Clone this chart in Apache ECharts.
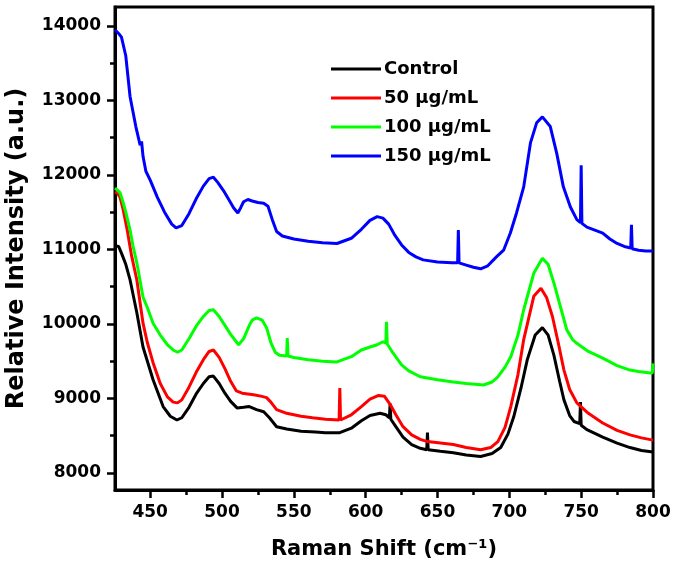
<!DOCTYPE html>
<html>
<head>
<meta charset="utf-8">
<script src="https://cdn.jsdelivr.net/npm/echarts@6/dist/echarts.min.js"></script>
<style>html,body{margin:0;padding:0;background:#fff}#c{width:675px;height:576px}</style>
</head>
<body>
<div id="c"></div>
<script>
var seriesNames = ['Control', '50 µg/mL', '100 µg/mL', '150 µg/mL'];
var xTicks = [450, 500, 550, 600, 650, 700, 750, 800];
var xMinorTicks = [475, 525, 575, 625, 675, 725, 775];
var yTicks = [8000, 9000, 10000, 11000, 12000, 13000, 14000];
var yMinorTicks = [8500, 9500, 10500, 11500, 12500, 13500];

var controlX = [425.5,428,430,433,436,440.7,445,452,459,464,468.6,472,477,482,487,491,494,498,502,506,510.6,515,519,524,529,533,538,545,555,565,572,582,590,597,603,610,614,616.5,617,617.5,621,626,632,638,642.5,643,643.5,652,661,670,680,688,694,699,703,708,712.5,718,723,727,731,735,738,742,745,749,749.5,750,754,765,775,784,792,800];
var controlY = [11050,11040,10950,10800,10590,10150,9690,9250,8890,8760,8710,8740,8880,9060,9200,9290,9300,9200,9070,8960,8870,8880,8890,8850,8820,8740,8620,8590,8560,8550,8540,8540,8600,8700,8770,8800,8780,8740,8930,8720,8620,8480,8380,8330,8310,8540,8310,8290,8270,8240,8220,8260,8340,8520,8750,9130,9520,9850,9950,9850,9580,9230,8980,8770,8690,8660,8950,8640,8580,8480,8400,8340,8300,8280];

var red50X = [425.5,427,429,431,434,437,440.7,445,448,452,457,462,466,469,472,477,482,487,491,494,498,502,506,510,514,518,522,527,531,534,538,545,555,563,572,581.5,582,582.5,590,597,603,609,613,617,621,626,632,638,643,652,661,670,680,687,692,697,701,706,710,717,722,726,730,734,738,742,747,755,765,775,784,792,800];
var red50Y = [11770,11760,11700,11550,11260,10920,10590,10010,9750,9480,9200,9020,8950,8940,8980,9150,9350,9520,9630,9650,9550,9400,9230,9100,9070,9060,9050,9030,9010,8950,8850,8800,8760,8740,8720,8710,9140,8710,8780,8890,8990,9040,9030,8920,8780,8620,8510,8450,8420,8400,8380,8340,8310,8340,8420,8610,8890,9320,9790,10370,10480,10350,10100,9750,9380,9120,8940,8800,8670,8570,8510,8470,8440];

var green100X = [425.5,427,429,431,433,436,438,440.7,445,448,452,457,462,466,469,472,477,482,487,491,494,498,502,506,511.5,515,519,521,524,528,531,534,537,540,545,545.4,546,550,560,570,580,590,597,603,608,612,614,614.5,615,619,625,630,638,650,661,670,682,688,692,697,701,706,710,717,723,727,731,736,740,744,747,755,765,775,784,790,798,799.5,800];
var green100Y = [11820,11800,11760,11640,11500,11260,11050,10820,10360,10220,10010,9850,9720,9650,9620,9650,9800,9970,10100,10180,10190,10100,9980,9860,9720,9800,9980,10050,10080,10050,9950,9750,9620,9580,9570,9810,9570,9550,9520,9500,9490,9560,9650,9690,9720,9760,9740,10030,9730,9610,9450,9370,9290,9250,9220,9200,9180,9220,9290,9420,9560,9850,10190,10680,10880,10800,10550,10200,9920,9790,9740,9630,9540,9440,9380,9360,9340,9340,9470];

var blue150X = [425.5,428,430,433,436,440,443,444,445,447,450,455,460,465,468,472,477,482,487,491,494,497,501,505,508,511,513,515,518,521,525,529,532,535,538,542,550,560,570,580,590,597,603,608,612,616,620,625,630,635,640,650,660,664,664.5,665,670,675,680,685,691,696,700.7,705,710,714.7,719,723,728.5,733,737.6,742.5,747,749.5,750,750.5,754,765,770,775,780,784.5,785,785.5,790,795,800];
var blue150Y = [13950,13900,13850,13600,13050,12650,12400,12450,12250,12050,11930,11700,11500,11340,11290,11320,11480,11680,11850,11950,11970,11900,11790,11660,11560,11490,11560,11640,11670,11650,11630,11620,11580,11400,11240,11180,11140,11110,11090,11080,11150,11270,11390,11440,11420,11340,11200,11060,10960,10900,10860,10830,10820,10820,11260,10820,10790,10760,10740,10780,10900,10990,11220,11490,11840,12430,12700,12780,12650,12290,11840,11570,11400,11360,12130,11350,11300,11220,11140,11080,11040,11020,11330,11010,10990,10980,10980];

function pairs(xs, ys) { return xs.map(function (x, i) { return [x, ys[i]]; }); }

var colors = ['#000000', '#ff0000', '#00ff00', '#0000ff'];
var dataSets = [pairs(controlX, controlY), pairs(red50X, red50Y), pairs(green100X, green100Y), pairs(blue150X, blue150Y)];

var FONT = 'DejaVu Sans';
var chart = echarts.init(document.getElementById('c'), null, { renderer: 'canvas' });
var series = seriesNames.map(function (n, i) {
  return {
    name: n, type: 'line', data: dataSets[i], showSymbol: false, symbol: 'none',
    lineStyle: { color: colors[i], width: 3 }, itemStyle: { color: colors[i] },
    animation: false, z: 2 + i
  };
});
function plain(v) { return String(Math.round(v)); }

chart.setOption({
  animation: false,
  backgroundColor: '#fff',
  grid: { left: 115, right: 22, top: 7, bottom: 86, containLabel: false, outerBoundsMode: 'none', show: true, borderColor: '#000', borderWidth: 3, backgroundColor: 'transparent' },
  legend: {
    orient: 'vertical', left: 326, top: 55, itemWidth: 50, itemHeight: 3, itemGap: 11,
    icon: 'rect', data: seriesNames,
    textStyle: { fontFamily: FONT, fontWeight: 'bold', fontSize: 18, color: '#000', padding: [0, 0, 0, -2] }
  },
  xAxis: [{
    type: 'value', min: 425.5, max: 800,
    name: 'Raman Shift (cm⁻¹)', nameLocation: 'middle', nameGap: 49,
    nameTextStyle: { fontFamily: FONT, fontWeight: 'bold', fontSize: 21, color: '#000' },
    axisLine: { show: true, onZero: false, lineStyle: { color: '#000', width: 3 } },
    axisTick: { show: true, customValues: xTicks, length: 8, lineStyle: { color: '#000', width: 2.5 } },
    axisLabel: { customValues: xTicks, formatter: plain, fontFamily: FONT, fontWeight: 'bold', fontSize: 17, color: '#000', margin: 14 },
    splitLine: { show: false }
  }, {
    type: 'value', min: 425.5, max: 800, position: 'bottom', gridIndex: 0,
    axisLine: { show: false }, axisLabel: { show: false }, splitLine: { show: false },
    axisTick: { show: true, customValues: xMinorTicks, length: 5, lineStyle: { color: '#000', width: 2.5 } }
  }],
  yAxis: [{
    type: 'value', min: 7770, max: 14255,
    name: 'Relative Intensity (a.u.)', nameLocation: 'middle', nameGap: 86,
    nameTextStyle: { fontFamily: FONT, fontWeight: 'bold', fontSize: 24, color: '#000' },
    axisLine: { show: true, onZero: false, lineStyle: { color: '#000', width: 3 } },
    axisTick: { show: true, customValues: yTicks, length: 8, lineStyle: { color: '#000', width: 2.5 } },
    axisLabel: { customValues: yTicks, formatter: plain, fontFamily: FONT, fontWeight: 'bold', fontSize: 17, color: '#000', margin: 14 },
    splitLine: { show: false }
  }, {
    type: 'value', min: 7770, max: 14255, position: 'left', gridIndex: 0,
    axisLine: { show: false }, axisLabel: { show: false }, splitLine: { show: false },
    axisTick: { show: true, customValues: yMinorTicks, length: 5, lineStyle: { color: '#000', width: 2.5 } }
  }],
  series: series
});
</script>
</body>
</html>
